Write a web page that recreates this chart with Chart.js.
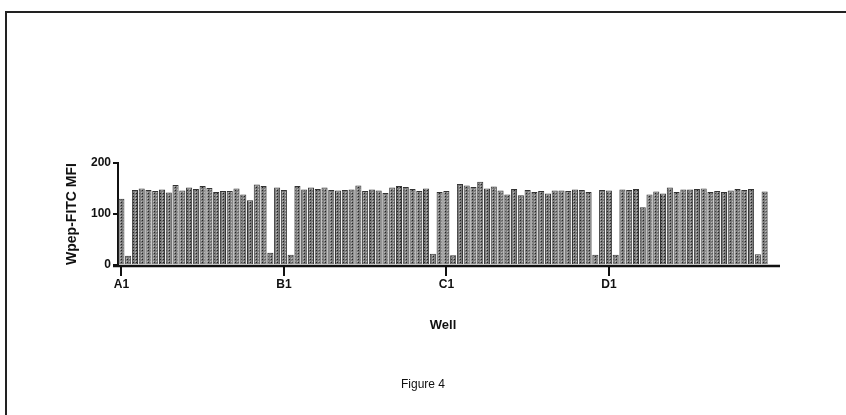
<!DOCTYPE html>
<html>
<head>
<meta charset="utf-8">
<script src="https://cdn.jsdelivr.net/npm/chart.js@4.4.1/dist/chart.umd.min.js"></script>
<style>
  html, body { margin: 0; padding: 0; background: #fff; overflow: hidden; }
  #wrap { position: relative; width: 846px; height: 415px; }
  #frame { position: absolute; left: 5px; top: 11px; width: 900px; height: 500px;
           border-top: 2px solid #222; border-left: 2px solid #222; }
  #fig { position: absolute; left: 0; width: 846px; top: 377px; text-align: center;
         font: 12px "Liberation Sans", Arial, sans-serif; color: #111; }
  canvas { position: absolute; left: 0; top: 0; }
</style>
</head>
<body>
<div id="wrap">
  <div id="frame"></div>
  <canvas id="plateChart" width="846" height="415"></canvas>
  <div id="fig">Figure 4</div>
</div>
<script>
const rows = ["A", "B", "C", "D"];
const rowA = [130, 18, 147, 150, 147, 145, 148, 142, 157, 146, 152, 149, 155, 151, 143, 145, 145, 150, 138, 127, 158, 155, 24, 152];
const rowB = [147, 20, 155, 148, 152, 149, 152, 147, 146, 147, 148, 156, 145, 148, 146, 141, 152, 155, 153, 149, 145, 150, 22, 143];
const rowC = [145, 19, 159, 156, 153, 163, 150, 154, 146, 138, 149, 137, 147, 143, 145, 140, 146, 146, 145, 148, 147, 143, 20, 147];
const rowD = [146, 20, 148, 147, 149, 113, 138, 144, 140, 152, 143, 148, 148, 149, 150, 143, 145, 143, 146, 149, 147, 149, 21, 144];
const yTicks = [0, 100, 200];

const values = [...rowA, ...rowB, ...rowC, ...rowD];
const wells = [];
rows.forEach(r => { for (let c = 1; c <= 24; c++) wells.push(r + c); });

// dotted grey fill like the original print
const pc = document.createElement("canvas");
pc.width = 3; pc.height = 3;
const p = pc.getContext("2d");
p.fillStyle = "#7c7c7c"; p.fillRect(0, 0, 3, 3);
p.fillStyle = "#222"; p.fillRect(1, 1, 1, 1);
p.fillStyle = "#b8b8b8"; p.fillRect(0, 0, 1, 1);
const ctx = document.getElementById("plateChart").getContext("2d");
const dots = ctx.createPattern(pc, "repeat");

const font = "'Liberation Sans', Arial, sans-serif";

const axisExtend = {
  id: "axisExtend",
  afterDraw(chart) {
    const a = chart.chartArea, c = chart.ctx;
    c.save();
    c.strokeStyle = "#111";
    c.lineWidth = 2.5;
    c.beginPath();
    c.moveTo(a.left - 5, a.bottom + 1);
    c.lineTo(a.right + 12, a.bottom + 1);
    c.stroke();
    c.restore();
  }
};

new Chart(ctx, {
  type: "bar",
  data: {
    labels: wells,
    datasets: [{
      data: values,
      backgroundColor: dots,
      borderColor: "#333",
      borderWidth: 1,
      barPercentage: 0.9,
      categoryPercentage: 1
    }]
  },
  options: {
    responsive: false,
    animation: false,
    layout: { padding: { left: 60, top: 163, right: 78, bottom: 78 } },
    plugins: { legend: { display: false }, tooltip: { enabled: false } },
    scales: {
      x: {
        offset: true,
        grid: { drawOnChartArea: false, offset: false, tickLength: 11, color: "#111", lineWidth: 2 },
        border: { display: false },
        ticks: {
          autoSkip: false, maxRotation: 0, padding: 1,
          color: "#111", font: { family: font, size: 12, weight: "bold" },
          callback: (v, i) => (i % 24 === 0 ? wells[i] : null)
        },
        title: { display: true, text: "Well", color: "#111", font: { family: font, size: 13, weight: "bold" } },
        afterFit: s => { s.height = 72; }
      },
      y: {
        min: 0, max: 200,
        afterBuildTicks: s => { s.ticks = yTicks.map(v => ({ value: v })); },
        grid: { drawOnChartArea: false, tickLength: 5, color: "#111", lineWidth: 2 },
        border: { color: "#111", width: 2 },
        ticks: { padding: 2, color: "#111", font: { family: font, size: 12, weight: "bold" } },
        title: { display: true, text: "Wpep-FITC MFI", color: "#111", font: { family: font, size: 14, weight: "bold" } },
        afterFit: s => { s.width = 58; }
      }
    }
  },
  plugins: [axisExtend]
});
</script>
</body>
</html>
